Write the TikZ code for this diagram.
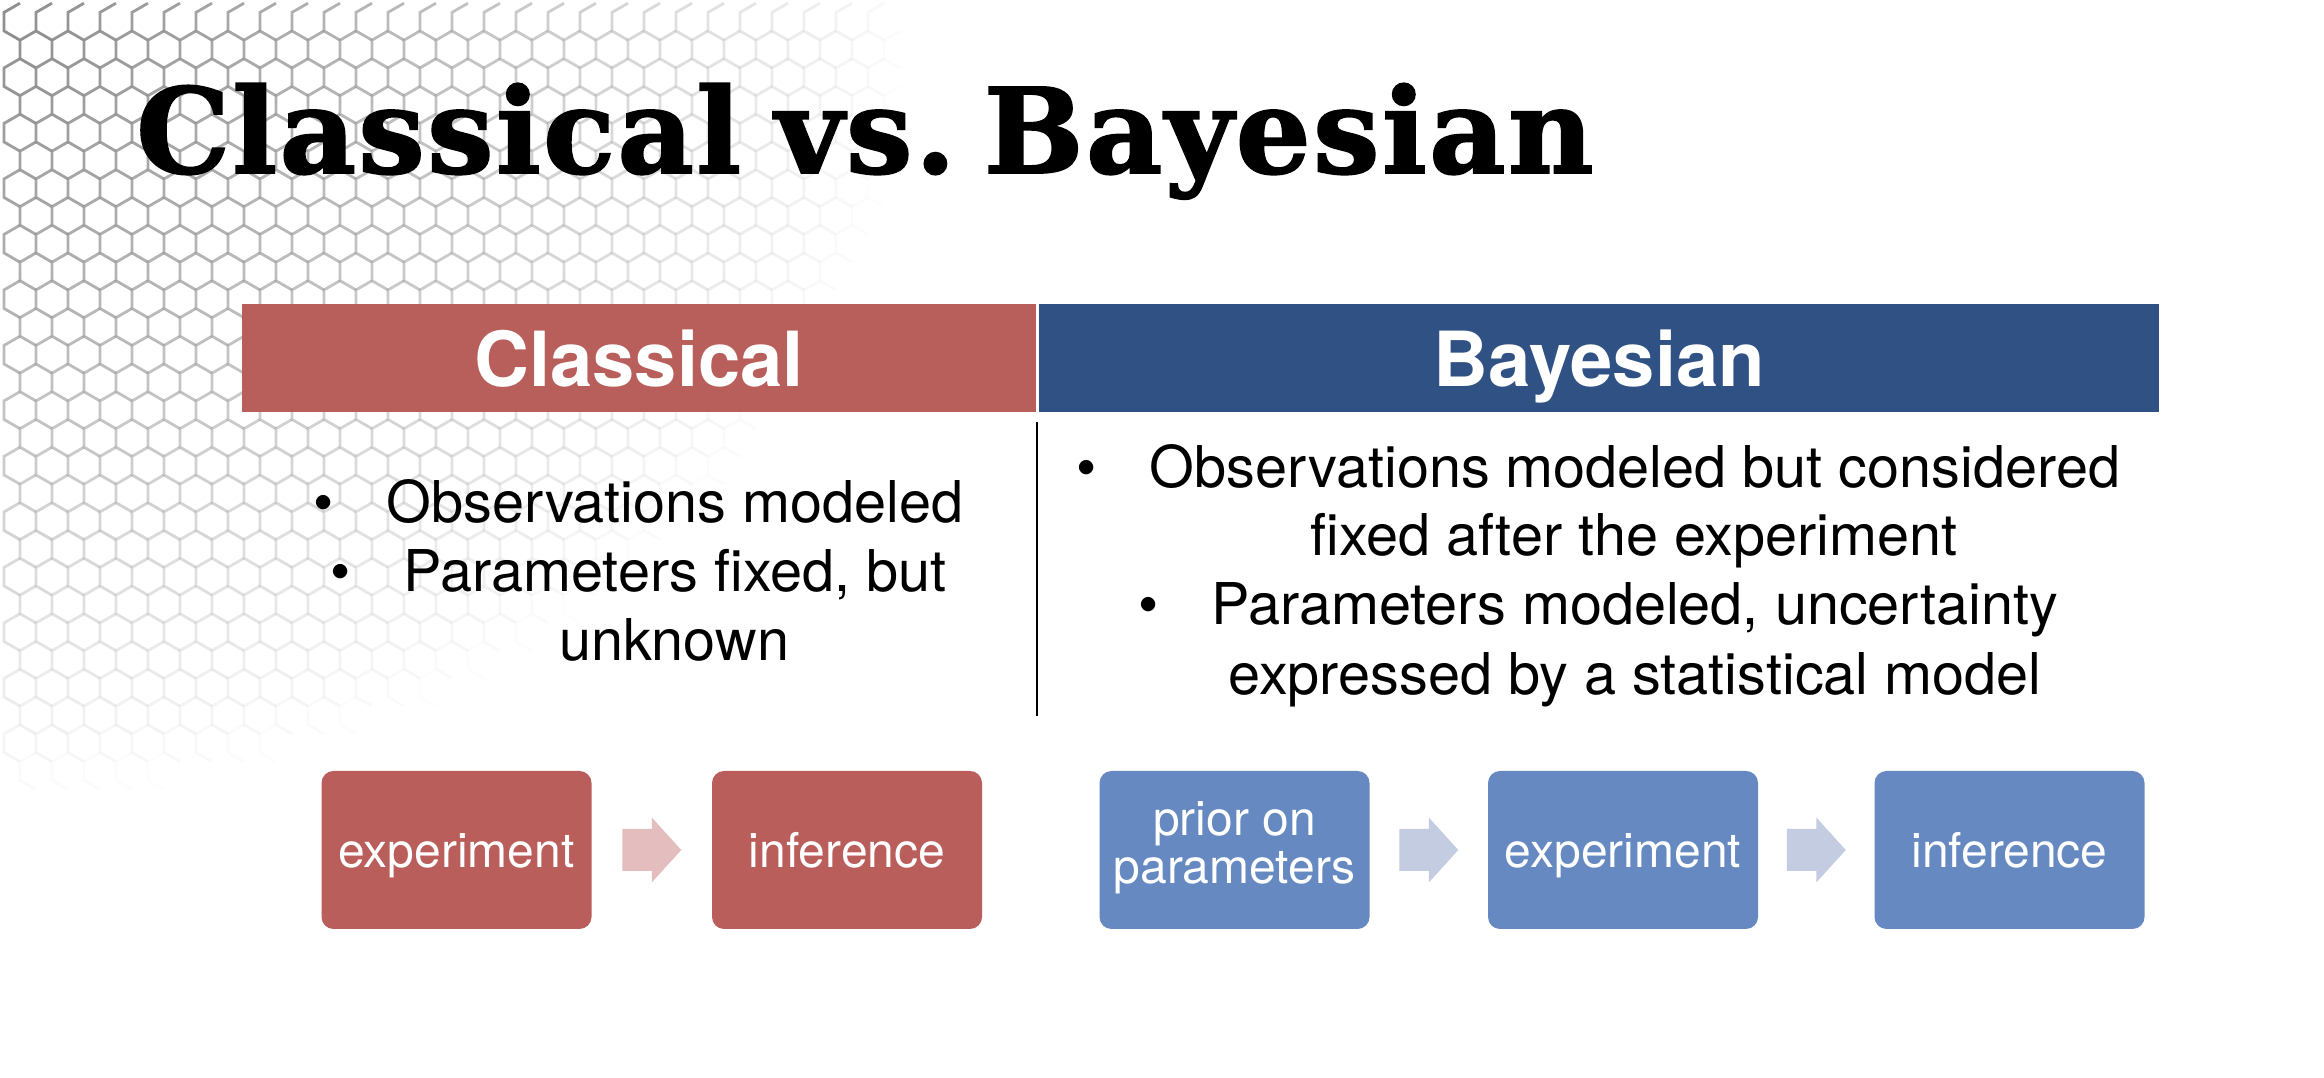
\documentclass[tikz,border=0pt]{standalone}
\usepackage{fontspec}
\setmainfont{TeX Gyre Heros}
\newfontfamily\titlefont{DejaVu Serif}[FakeBold=1.6,LetterSpace=2.0]
\usetikzlibrary{calc}

\definecolor{clsred}{HTML}{B85F5B}
\definecolor{bayblue}{HTML}{2F5184}
\definecolor{boxred}{HTML}{B95E5A}
\definecolor{boxblue}{HTML}{6589C0}
\definecolor{arrred}{HTML}{E4BEBE}
\definecolor{arrblue}{HTML}{C4CCE2}
\definecolor{hexgray}{HTML}{8C8C8C}

\begin{document}
\begin{tikzpicture}[x=1pt,y=1pt,
  headbar/.style={fill=#1, minimum width=794pt, minimum height=108pt, inner sep=0pt,
    anchor=north west, text=white, text height=67pt, text depth=10pt,
    font=\bfseries\fontsize{76}{80}\selectfont},
  body/.style={font=\fontsize{57.6}{69}\selectfont, inner sep=0pt, anchor=base},
  stepbox/.style={fill=#1, rounded corners=12pt, minimum width=270pt, minimum height=158pt,
    inner sep=0pt, text=white, align=center, font=\fontsize{48}{48}\selectfont},
  oneline/.style={text height=35pt, text depth=0pt},
  pics/flowarrow/.style={code={
    \fill (-29.5,21) -- (0,21) -- (0,32.5) -- (29.5,0) -- (0,-32.5) -- (0,-21)
      -- (-29.5,-21) -- cycle;}}]

\useasboundingbox (0,0) rectangle (2324,1078);
\fill[white] (0,0) rectangle (2324,1078);

% honeycomb in the upper left corner, fading out towards the slide body
\foreach \j in {0,...,30}{
  \foreach \i in {0,...,30}{
    \pgfmathsetmacro{\cx}{20+32*\i+16*mod(\j,2)}
    \pgfmathsetmacro{\cy}{21.7+27.75*\j}
    \pgfmathsetmacro{\dd}{sqrt((\cx/920)^2+(\cy/790)^2)}
    \pgfmathsetmacro{\op}{pow(max(0.0001,1-\dd),0.9)}
    \ifdim\op pt>0.01pt
      \draw[hexgray, line width=2.8pt, opacity=\op, shift={(\cx,1078-\cy)}]
        (90:18.5) -- (150:18.5) -- (210:18.5) -- (270:18.5);
    \fi
  }
}

% title
\node[anchor=base west, inner sep=0pt, font=\titlefont\bfseries\fontsize{118}{120}\selectfont]
  (title) at (136,905) {Classical\hspace{34pt}vs.\hspace{28pt}Bayesian};

% column headers
\node[headbar=clsred] (hc) at (242,774) {Classical};
\node[headbar=bayblue, minimum width=1120pt] (hb) at (1039,774) {Bayesian};

% divider between the two columns
\coordinate (dtop) at (1037,656);
\coordinate (dbot) at (1037,362);
\draw[line width=2.2pt] (dtop) -- (dbot);

% classical points
\node[body] (l1) at (675,555) {Observations modeled};
\node[body] (l2) at (675,486) {Parameters fixed, but};
\node[body] (l3) at (674,417) {unknown};
\node[body] at ($(l1.base west)+(-63,0)$) {•};
\node[body] at ($(l2.base west)+(-63,0)$) {•};

% bayesian points
\node[body] (r1) at (1635,590) {Observations modeled but considered};
\node[body] (r2) at (1634,522) {fixed after the experiment};
\node[body] (r3) at (1635,453) {Parameters modeled, uncertainty};
\node[body] (r4) at (1635,383) {expressed by a statistical model};
\node[body] at ($(r1.base west)+(-63,0)$) {•};
\node[body] at ($(r3.base west)+(-63,0)$) {•};

% process chains
\node[stepbox=boxred, oneline] (ce) at (456.5,228) {experiment};
\node[stepbox=boxred, oneline] (ci) at (847,228) {inference};
\node[stepbox=boxblue, text depth=14pt] (bp) at (1234.5,228) {prior on\\parameters};
\node[stepbox=boxblue, oneline] (be) at (1623,228) {experiment};
\node[stepbox=boxblue, oneline] (bi) at (2009.5,228) {inference};

\path (ce) -- (ci) coordinate[midway] (a1);
\path (bp) -- (be) coordinate[midway] (a2);
\path (be) -- (bi) coordinate[midway] (a3);
\pic[fill=arrred] at (a1) {flowarrow};
\pic[fill=arrblue] at (a2) {flowarrow};
\pic[fill=arrblue] at (a3) {flowarrow};
\end{tikzpicture}
\end{document}
